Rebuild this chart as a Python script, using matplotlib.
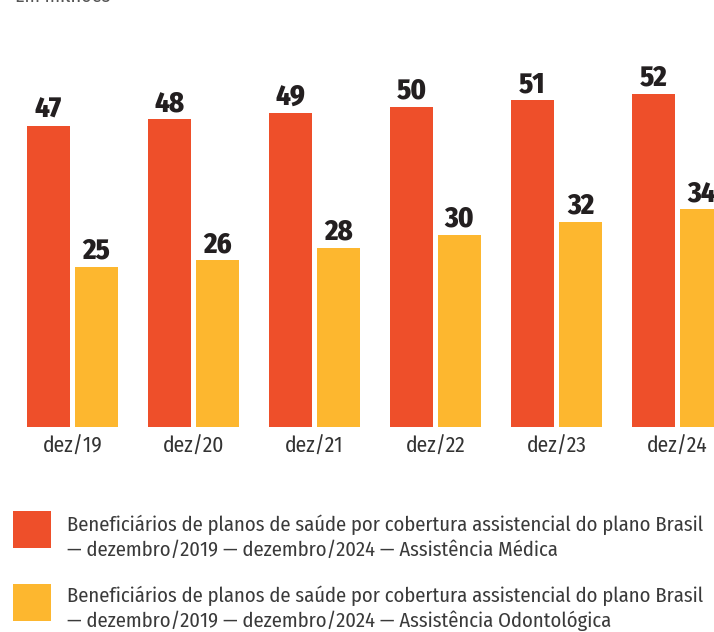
import matplotlib
matplotlib.use("Agg")
import matplotlib.pyplot as plt
from matplotlib.patches import Rectangle
import numpy as np

# ---- data ----
categories = ["dez/19", "dez/20", "dez/21", "dez/22", "dez/23", "dez/24"]
medica = [47, 48, 49, 50, 51, 52]
odonto = [25, 26, 28, 30, 32, 34]
legend_labels = [
    "Beneficiários de planos de saúde por cobertura assistencial do plano Brasil\n— dezembro/2019 — dezembro/2024 — Assistência Médica",
    "Beneficiários de planos de saúde por cobertura assistencial do plano Brasil\n— dezembro/2019 — dezembro/2024 — Assistência Odontológica",
]
subtitle = "Em milhões"

RED = "#EE4F2A"
YEL = "#FDB72F"
FONT = ["Fira Sans Condensed", "DejaVu Sans"]

W, H = 714, 632
fig = plt.figure(figsize=(W / 100, H / 100), dpi=100)
fig.patch.set_facecolor("white")

# axes: baseline at y=427px, 6.41 px per unit
base_px = 427
ppu = 6.41
ymax = 60
ax = fig.add_axes([0, (H - base_px) / H, 1, ymax * ppu / H])
group = 121.0
c0 = 72.5
ax.set_xlim(-c0 / group, (W - c0) / group)
ax.set_ylim(0, ymax)

x = np.arange(len(categories))
off = 24 / group
bw = 43 / group
b1 = ax.bar(x - off, medica, width=bw, color=RED, linewidth=0)
b2 = ax.bar(x + off, odonto, width=bw, color=YEL, linewidth=0)

for bars, vals in ((b1, medica), (b2, odonto)):
    for r, v in zip(bars, vals):
        ax.annotate(f"{v}", (r.get_x() + r.get_width() / 2, v),
                    xytext=(0, 5.8), textcoords="offset points",
                    ha="center", va="baseline", fontsize=20.5,
                    fontweight="heavy", color="#231F20", family=FONT,
                    annotation_clip=False)

ax.set_xticks(x)
ax.set_xticklabels(categories, fontsize=15.5, color="#333333", family=FONT)
for lbl in ax.get_xticklabels():
    lbl.set_va("baseline")
ax.tick_params(axis="x", length=0, pad=18.7)
ax.set_yticks([])
for s in ax.spines.values():
    s.set_visible(False)
ax.set_facecolor("none")

# subtitle (cut at top, as in the reference)
fig.text(15 / W, 1 - 2 / H, subtitle, fontsize=14.5, color="#555555",
         family=FONT, va="baseline", ha="left")

# legend
sq_tops = [511, 584]
colors = [RED, YEL]
bl_first = [531, 602]
for top, bl1, col, lab in zip(sq_tops, bl_first, colors, legend_labels):
    fig.patches.append(Rectangle((13 / W, (H - top - 37) / H), 38 / W, 37 / H,
                                 transform=fig.transFigure, color=col, linewidth=0))
    l1, l2 = lab.split("\n")
    fig.text(67 / W, 1 - bl1 / H, l1, fontsize=14.8, color="#3A3A3A",
             family=FONT, va="baseline", ha="left")
    fig.text(67 / W, 1 - (bl1 + 25) / H, l2, fontsize=14.8, color="#3A3A3A",
             family=FONT, va="baseline", ha="left")

fig.savefig("out.png", dpi=100, facecolor="white")
